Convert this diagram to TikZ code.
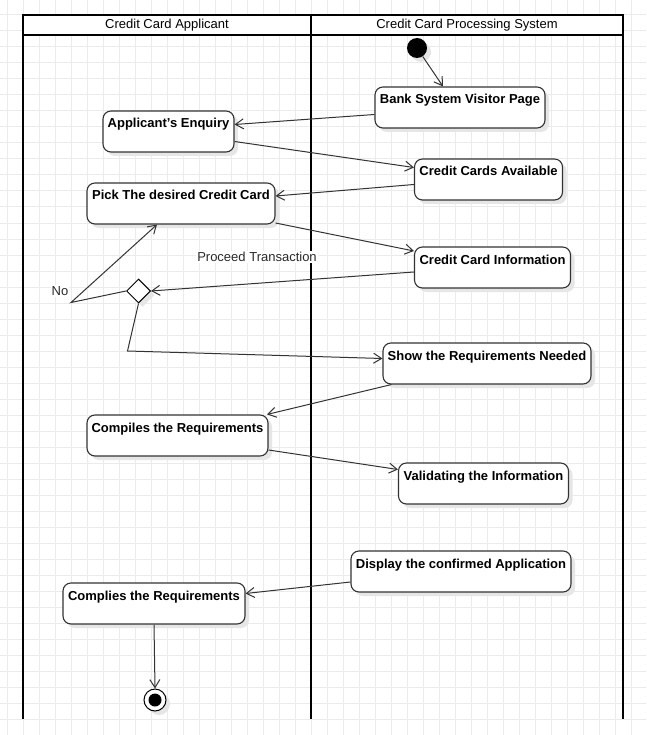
\documentclass[tikz,border=0pt]{standalone}
\usepackage{fontspec}
\setmainfont{Liberation Sans}
\usetikzlibrary{arrows.meta,shapes.geometric,shadows}
\definecolor{gridc}{HTML}{EBEBEB}
\definecolor{edgec}{HTML}{333333}
\definecolor{shadec}{HTML}{E6E6E6}
\begin{document}
\begin{tikzpicture}[x=1pt,y=-1pt,
  gridline/.style={gridc,line width=1pt},
  lane/.style={black,line width=2pt},
  hdr/.style={font=\fontsize{13}{15}\selectfont,inner sep=0pt},
  shade/.style={drop shadow={shadow xshift=4pt,shadow yshift=-4pt,fill=shadec,opacity=1}},
  act/.style={draw=edgec,line width=1.1pt,rounded corners=8pt,fill=white,shade,
    font=\bfseries\fontsize{13}{15}\selectfont,inner xsep=2pt,inner ysep=3pt,
    text height=14pt,text depth=21pt,minimum height=41pt},
  flow/.style={edgec,line width=1pt,-{Straight Barb[length=8pt,width=10pt]}},
  lbl/.style={font=\fontsize{13}{15}\selectfont,text=edgec!80!black,fill=white,inner sep=1pt}]
\useasboundingbox (0,0) rectangle (646,735);

% background grid
\fill[white] (0,0) rectangle (646,735);
\foreach \i in {0,...,39} \draw[gridline] (7+16*\i,0) -- (7+16*\i,735);
\foreach \j in {0,...,45} \draw[gridline] (0,15+16*\j) -- (646,15+16*\j);

% swimlanes
\fill[white] (23,15) rectangle (623,35);
\node[hdr] (laneA) at (167,25) {Credit Card Applicant};
\node[hdr] (laneB) at (467,25) {Credit Card Processing System};
\draw[lane] (23,719) -- (23,15) -- (623,15) -- (623,719);
\draw[lane] (23,35) -- (623,35);
\draw[lane] (311,15) -- (311,719);

% activities
\node[circle,fill=black,minimum size=20pt,inner sep=0pt,shade] (start) at (417,48) {};
\node[act,minimum width=170pt] (bank)  at (460,107.5) {Bank System Visitor Page};
\node[act,minimum width=131pt] (enq)   at (168.5,131.5) {Applicant's Enquiry};
\node[act,minimum width=148pt] (cca)   at (488.5,179.5) {Credit Cards Available};
\node[act,minimum width=188pt] (pick)  at (181,203.5) {Pick The desired Credit Card};
\node[act,minimum width=156pt] (cci)   at (492.5,267.5) {Credit Card Information};
\node[draw=black,line width=1pt,diamond,fill=white,minimum width=24pt,minimum height=24pt,inner sep=0pt,shade] (dec) at (138.5,291) {};
\node[act,minimum width=208pt] (show)  at (487,363.5) {Show the Requirements Needed};
\node[act,minimum width=181pt] (comp)  at (177.5,435.5) {Compiles the Requirements};
\node[act,minimum width=170pt] (valid) at (483.5,483.5) {Validating the Information};
\node[act,minimum width=220pt] (disp)  at (461,571.5) {Display the confirmed Application};
\node[act,minimum width=182pt] (compl) at (154,603.5) {Complies the Requirements};
\node[circle,draw=black,line width=1pt,fill=white,minimum size=22pt,inner sep=0pt,shade] (stop) at (155,700) {};
\fill[black] (stop.center) circle (6.5);

% bend points of the decision branches
\coordinate (nobend) at (71,302.5);
\coordinate (yesbend) at (127.5,351);

% flows
\draw[flow] (start) -- ([xshift=-17pt]bank.north);
\draw[flow] ([yshift=-7pt]bank.west) -- ([yshift=7pt]enq.east);
\draw[flow] ([yshift=-10pt]enq.east) -- ([yshift=12pt]cca.west);
\draw[flow] ([yshift=-5pt]cca.west) -- ([yshift=7.5pt]pick.east);
\draw[flow] ([yshift=-19.5pt]pick.east) -- ([yshift=16.5pt]cci.west);
\draw[flow] ([yshift=-4.5pt]cci.west) -- (dec.east);
\draw[flow] (dec.west) -- (nobend) -- ([xshift=-24pt]pick.south);
\draw[flow] (dec.south) -- (yesbend) -- ([yshift=5pt]show.west);
\draw[flow] ([xshift=9pt]show.south west) -- ([xshift=-1.5pt]comp.north east);
\draw[flow] ([yshift=-14.5pt]comp.east) -- ([yshift=14pt]valid.west);
\draw[flow] ([yshift=-10.5pt]disp.west) -- ([yshift=10pt]compl.east);
\draw[flow] (compl.south) -- (stop.north);

% branch labels
\node[lbl] (nolbl) at (60,291) {No};
\node[lbl] (yeslbl) at (257,257) {Proceed Transaction};
\end{tikzpicture}
\end{document}
